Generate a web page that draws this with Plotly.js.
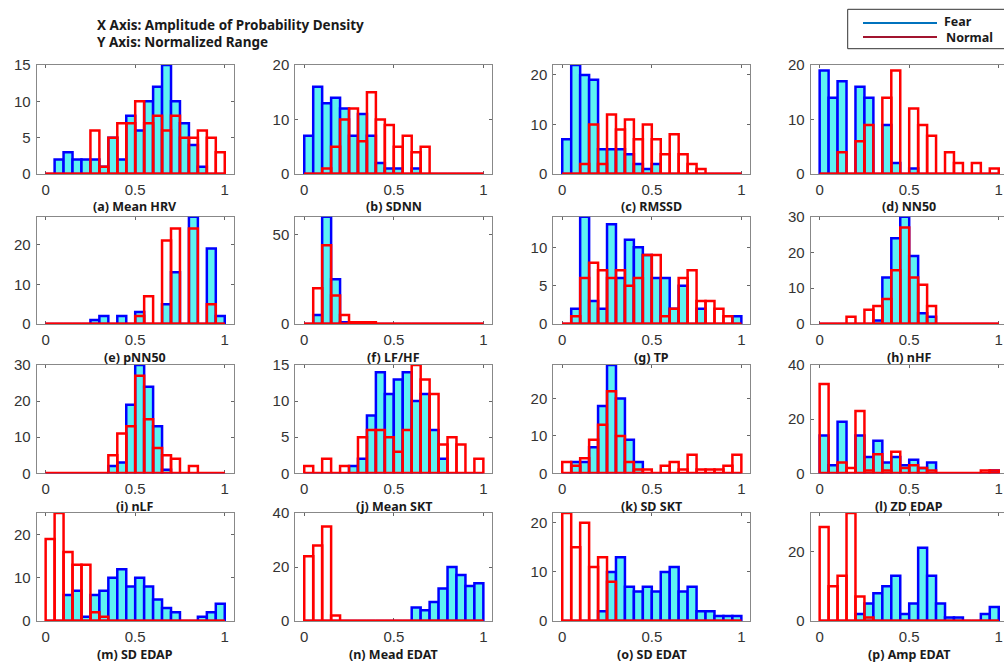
<!DOCTYPE html>
<html>
<head>
<meta charset="utf-8">
<script src="https://cdn.plot.ly/plotly-3.0.1.min.js"></script>
<style>
html,body{margin:0;padding:0;overflow:hidden;background:#fff;}
#chart{width:1010px;height:664px;}
</style>
</head>
<body>
<div id="chart"></div>
<script>
// ---------------- data ----------------
const binCenters = [0.025,0.075,0.125,0.175,0.225,0.275,0.325,0.375,0.425,0.475,
                    0.525,0.575,0.625,0.675,0.725,0.775,0.825,0.875,0.925,0.975];
const binRange = [0, 1];
const xTickVals = [0, 0.5, 1];
const seriesNames = ['Fear', 'Normal'];
const headerLines = ['X Axis: Amplitude of Probability Density', 'Y Axis: Normalized Range'];

const panelLabels = ['(a) Mean HRV','(b) SDNN','(c) RMSSD','(d) NN50',
                     '(e) pNN50','(f) LF/HF','(g) TP','(h) nHF',
                     '(i) nLF','(j) Mean SKT','(k) SD SKT','(l) ZD EDAP',
                     '(m) SD EDAP','(n) Mead EDAT','(o) SD EDAT','(p) Amp EDAT'];

const fearMeanHRV   = [0,2,3,2,2,2,1,5,2,8,6,10,12,15,10,7,4,1,0,0];
const normalMeanHRV = [0,0,0,0,0,6,1,5,7,7,10,7,8,6,8,5,5,6,5,3];
const fearSDNN      = [7,16,13,14,12,7,11,7,2,1,1,0,1,0,0,0,0,0,0,0];
const normalSDNN    = [0,0,1,5,10,12,6,15,10,9,5,7,4,5,0,0,0,0,0,0];
const fearRMSSD     = [7,22,20,19,5,5,5,4,2,1,2,0,0,0,0,0,0,0,0,0];
const normalRMSSD   = [0,0,2,10,2,12,9,11,7,10,7,4,8,4,2,1,0,0,0,0];
const fearNN50      = [19,14,17,0,16,14,0,9,2,0,1,0,0,0,0,0,0,0,0,0];
const normalNN50    = [0,0,4,0,6,9,0,14,19,0,12,9,7,0,4,2,0,2,0,1];
const fearPNN50     = [0,0,0,0,0,1,2,0,2,0,3,0,0,5,13,0,27,0,19,2];
const normalPNN50   = [0,0,0,0,0,0,0,0,0,0,2,7,0,21,24,0,24,0,5,0];
const fearLFHF      = [0,5,60,25,1,0,0,0,0,0,0,0,0,0,0,0,0,0,0,0];
const normalLFHF    = [0,20,44,16,5,1,1,1,0,0,0,0,0,0,0,0,0,0,0,0];
const fearTP        = [0,2,14,3,2,13,6,11,10,9,6,6,2,5,0,2,0,0,0,1];
const normalTP      = [0,1,6,8,7,6,7,5,6,9,9,1,2,6,7,3,3,2,1,0];
const fearNHF       = [0,0,0,0,0,0,1,13,24,30,19,3,2,0,0,0,0,0,0,0];
const normalNHF     = [0,0,0,2,0,4,5,7,15,27,13,11,5,0,0,0,0,0,0,0];
const fearNLF       = [0,0,0,0,0,0,0,2,3,19,30,24,13,1,0,0,0,0,0,0];
const normalNLF     = [0,0,0,0,0,0,0,5,11,13,27,15,7,5,4,0,2,0,0,0];
const fearMeanSKT   = [0,0,0,0,0,1,2,8,14,11,13,14,10,11,6,2,0,0,0,0];
const normalMeanSKT = [1,0,2,0,1,0,5,6,6,5,3,6,15,13,11,4,5,4,0,2];
const fearSDSKT     = [0,3,3,7,18,29,20,9,3,0,0,0,0,0,0,0,0,0,0,0];
const normalSDSKT   = [3,2,4,9,13,22,10,3,1,1,0,2,3,1,5,1,1,1,2,5];
const fearZDEDAP    = [14,3,19,0,14,6,12,4,6,3,5,2,4,0,0,0,0,0,0,1];
const normalZDEDAP  = [33,0,4,2,23,1,7,1,8,2,3,2,1,0,0,0,0,0,1,1];
const fearSDEDAP    = [0,0,6,7,1,6,7,10,12,8,10,8,5,3,2,0,0,1,2,4];
const normalSDEDAP  = [19,25,16,13,13,2,1,0,0,0,0,0,0,0,0,0,0,0,0,0];
const fearMeadEDAT  = [0,0,0,0,0,0,0,0,0,0,0,0,5,4,7,12,20,17,13,14];
const normalMeadEDAT= [24,28,35,2,0,0,0,0,0,0,0,0,0,0,0,0,0,0,0,0];
const fearSDEDAT    = [0,0,0,0,2,10,13,7,6,7,6,10,11,6,7,2,2,1,1,1];
const normalSDEDAT  = [22,15,20,11,13,8,0,0,0,0,0,0,0,0,0,0,0,0,0,0];
const fearAmpEDAT   = [0,0,0,0,2,5,8,10,13,2,5,21,13,5,1,1,0,0,2,4];
const normalAmpEDAT = [27,10,13,31,7,1,0,0,0,0,0,0,0,0,0,0,0,0,0,0];

const fearSeries = [fearMeanHRV,fearSDNN,fearRMSSD,fearNN50,fearPNN50,fearLFHF,fearTP,fearNHF,
                    fearNLF,fearMeanSKT,fearSDSKT,fearZDEDAP,fearSDEDAP,fearMeadEDAT,fearSDEDAT,fearAmpEDAT];
const normalSeries = [normalMeanHRV,normalSDNN,normalRMSSD,normalNN50,normalPNN50,normalLFHF,normalTP,normalNHF,
                      normalNLF,normalMeanSKT,normalSDSKT,normalZDEDAP,normalSDEDAP,normalMeadEDAT,normalSDEDAT,normalAmpEDAT];

const yAxisMax  = [15,20,22,20, 27,60,14,30, 30,15,29,40, 25,40,22,31];
const yTickStep = [5,10,10,10, 10,50,5,10, 10,5,10,20, 10,20,10,20];

// ---------------- layout geometry (px) ----------------
const W = 1010, H = 664;
const colLeft = [36.7, 295.3, 553.3, 810.7];
const boxW = 197;
const rowTop = [65, 216.7, 365, 513];
const rowBottom = [174, 324, 473.3, 621];

const tickFont = {family: 'Liberation Sans, Arial, sans-serif', size: 15, color: '#333'};
const labelFont = {family: 'Noto Sans, DejaVu Sans, sans-serif', size: 12.5, color: '#1a1a1a'};
const textFont = {family: 'Noto Sans, DejaVu Sans, sans-serif', size: 13.5, color: '#1a1a1a'};

const data = [];
const layout = {
  width: W, height: H,
  margin: {l: 0, r: 0, t: 0, b: 0},
  paper_bgcolor: '#fff', plot_bgcolor: '#fff',
  barmode: 'overlay',
  showlegend: false,
  annotations: [],
  shapes: []
};

const barWidth = binCenters[1] - binCenters[0];

for (let i = 0; i < 16; i++) {
  const r = Math.floor(i / 4), c = i % 4;
  const n = i + 1;
  const xa = n === 1 ? 'x' : 'x' + n;
  const ya = n === 1 ? 'y' : 'y' + n;
  const xKey = n === 1 ? 'xaxis' : 'xaxis' + n;
  const yKey = n === 1 ? 'yaxis' : 'yaxis' + n;

  layout[xKey] = {
    domain: [colLeft[c] / W, (colLeft[c] + boxW) / W],
    range: [-0.05, 1.05],
    anchor: ya,
    tickvals: xTickVals,
    ticks: 'inside', ticklen: 3, tickcolor: '#666',
    showline: true, linecolor: '#888', linewidth: 1, mirror: 'ticks',
    showgrid: false, zeroline: false,
    tickfont: tickFont,
    ticklabelstandoff: 2,
    layer: 'below traces',
    fixedrange: true
  };
  layout[yKey] = {
    domain: [1 - rowBottom[r] / H, 1 - rowTop[r] / H],
    range: [0, yAxisMax[i]],
    anchor: xa,
    tick0: 0, dtick: yTickStep[i],
    ticks: 'inside', ticklen: 3, tickcolor: '#666',
    showline: true, linecolor: '#888', linewidth: 1, mirror: 'ticks',
    showgrid: false, zeroline: false,
    tickfont: tickFont,
    ticklabelstandoff: 2,
    layer: 'below traces',
    fixedrange: true
  };

  data.push({
    type: 'bar', name: seriesNames[0], x: binCenters, y: fearSeries[i],
    width: barWidth, xaxis: xa, yaxis: ya,
    marker: {color: '#5ef2f2', line: {color: '#0000ff', width: 2.5}},
    cliponaxis: false, hoverinfo: 'x+y+name'
  });
  data.push({
    type: 'bar', name: seriesNames[1], x: binCenters, y: normalSeries[i],
    width: barWidth, xaxis: xa, yaxis: ya,
    marker: {color: 'rgba(0,0,0,0)', line: {color: '#ff0000', width: 2.5}},
    cliponaxis: false, hoverinfo: 'x+y+name'
  });
  // zero-height bins drawn as a baseline along y = 0 (as in the source histogram)
  data.push({
    type: 'scatter', mode: 'lines', x: binRange, y: [0, 0],
    xaxis: xa, yaxis: ya, line: {color: '#ff0000', width: 3},
    hoverinfo: 'skip', showlegend: false
  });

  layout.annotations.push({
    xref: xa + ' domain', yref: ya + ' domain', x: 0.5, y: 0,
    xanchor: 'center', yanchor: 'middle', yshift: -33,
    text: '<b>' + panelLabels[i] + '</b>', showarrow: false, font: labelFont
  });
}

// header text (two lines)
layout.annotations.push({
  xref: 'paper', yref: 'paper', x: 95 / W, y: 1 - 25 / H,
  xanchor: 'left', yanchor: 'middle', align: 'left', showarrow: false,
  text: '<b>' + headerLines[0] + '</b>', font: textFont
});
layout.annotations.push({
  xref: 'paper', yref: 'paper', x: 95 / W, y: 1 - 41.5 / H,
  xanchor: 'left', yanchor: 'middle', align: 'left', showarrow: false,
  text: '<b>' + headerLines[1] + '</b>', font: textFont
});

// legend box
const fearColor = 'rgb(0,114,189)', normalColor = 'rgb(162,20,47)';
const legendFont = {family: 'Noto Sans, DejaVu Sans, sans-serif', size: 12.5, color: '#1a1a1a'};
layout.shapes.push({type: 'rect', xref: 'paper', yref: 'paper',
  x0: 847.7 / W, x1: 1.05, y0: 1 - 48.7 / H, y1: 1 - 9.3 / H,
  line: {color: '#333', width: 1}, fillcolor: '#fff'});
layout.shapes.push({type: 'line', xref: 'paper', yref: 'paper',
  x0: 863 / W, x1: 937 / W, y0: 1 - 23 / H, y1: 1 - 23 / H,
  line: {color: fearColor, width: 2}});
layout.shapes.push({type: 'line', xref: 'paper', yref: 'paper',
  x0: 863 / W, x1: 937 / W, y0: 1 - 37 / H, y1: 1 - 37 / H,
  line: {color: normalColor, width: 2}});
layout.annotations.push({xref: 'paper', yref: 'paper', x: 942 / W, y: 1 - 21.5 / H,
  xanchor: 'left', yanchor: 'middle', showarrow: false, text: '<b>' + seriesNames[0] + '</b>',
  font: legendFont});
layout.annotations.push({xref: 'paper', yref: 'paper', x: 944 / W, y: 1 - 37.5 / H,
  xanchor: 'left', yanchor: 'middle', showarrow: false, text: '<b>' + seriesNames[1] + '</b>',
  font: legendFont});

Plotly.newPlot('chart', data, layout, {displayModeBar: false});
</script>
</body>
</html>
